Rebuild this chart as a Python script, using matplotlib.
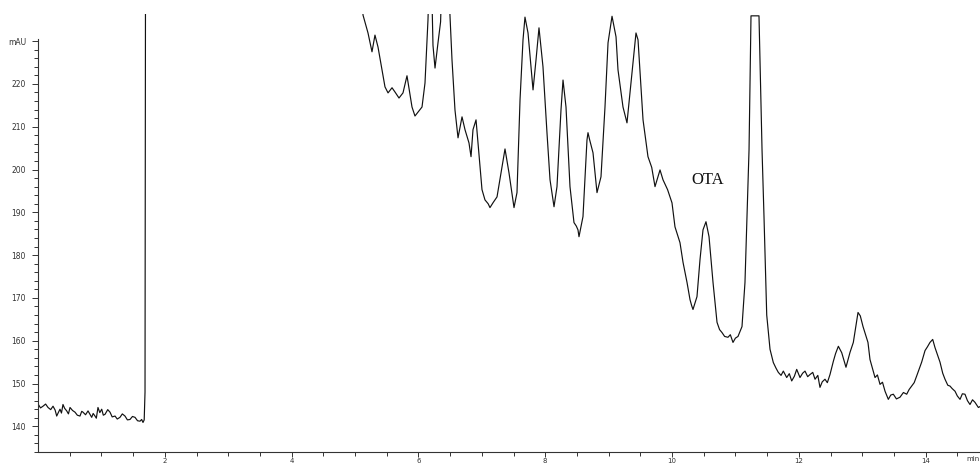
import numpy as np
import matplotlib.pyplot as plt

# -----------------------------
# chromatogram trace (min, mAU)
# -----------------------------
t_base = [-0.10, -0.07, -0.05, -0.02, 0.005, 0.04, 0.079, 0.12, 0.158, 0.20, 0.237, 0.27, 0.295, 0.32,
          0.347, 0.37, 0.394, 0.42, 0.453, 0.48, 0.505, 0.545, 0.584, 0.62, 0.662, 0.69, 0.710,
          0.75, 0.789, 0.82, 0.847, 0.87, 0.899, 0.92, 0.946, 0.975, 1.005, 1.03, 1.057, 1.10,
          1.136, 1.17, 1.215, 1.25, 1.293, 1.33, 1.372, 1.41, 1.451, 1.49, 1.530, 1.57, 1.609,
          1.635, 1.656, 1.675, 1.688]
y_base = [145.5, 146.2, 145.9, 145.3, 145.1, 144.3, 144.7, 145.2, 144.4, 143.9, 144.7, 143.8, 142.4, 143.2,
          144.0, 143.1, 145.1, 144.2, 143.6, 142.9, 144.4, 143.7, 143.3, 142.6, 142.4, 143.5, 143.3,
          142.7, 143.6, 142.8, 142.1, 143.0, 142.4, 141.9, 144.4, 143.2, 144.0, 142.6, 142.8, 143.9,
          143.3, 142.2, 142.4, 141.7, 142.1, 142.9, 142.4, 141.5, 141.6, 142.3, 142.1, 141.3, 141.2,
          141.6, 140.9, 141.5, 148.0]

# solvent front goes off the top of the paper
t_front = [1.700, 1.71, 5.10]
y_front = [300.0, 300.0, 300.0]

t_main = [5.126, 5.205, 5.268, 5.315, 5.363, 5.426, 5.473, 5.521, 5.584, 5.631, 5.694, 5.757, 5.820,
          5.899, 5.946, 6.057, 6.104, 6.151, 6.183, 6.199, 6.230, 6.262, 6.309, 6.350, 6.380,
          6.460, 6.498, 6.530, 6.577, 6.625, 6.688, 6.735, 6.798, 6.830, 6.861, 6.909, 6.940,
          7.003, 7.050, 7.100, 7.129, 7.180, 7.240, 7.319, 7.366, 7.429, 7.508, 7.555, 7.603,
          7.650, 7.681, 7.729, 7.808, 7.855, 7.902, 7.965, 8.028, 8.076, 8.139, 8.186, 8.249,
          8.281, 8.328, 8.391, 8.454, 8.490, 8.517, 8.533, 8.596, 8.659, 8.675, 8.700, 8.754,
          8.817, 8.880, 8.943, 8.991, 9.054, 9.117, 9.148, 9.227, 9.290, 9.353, 9.432, 9.464,
          9.543, 9.621, 9.680, 9.732, 9.811, 9.858, 9.930, 10.000, 10.047, 10.126, 10.174,
          10.237, 10.284, 10.310, 10.331, 10.394, 10.442, 10.489, 10.536, 10.584, 10.647,
          10.710, 10.750, 10.789, 10.830, 10.883, 10.920, 10.962, 11.000, 11.041, 11.104,
          11.151, 11.183, 11.215, 11.246, 11.372, 11.420, 11.451, 11.494, 11.546, 11.598,
          11.640, 11.677, 11.720, 11.756, 11.809, 11.850, 11.888, 11.930, 11.967, 12.019,
          12.060, 12.098, 12.140, 12.177, 12.220, 12.256, 12.300, 12.334, 12.370, 12.413,
          12.450, 12.492, 12.545, 12.580, 12.624, 12.677, 12.744, 12.808, 12.860, 12.900,
          12.934, 12.970, 13.013, 13.091, 13.123, 13.202, 13.240, 13.281, 13.320, 13.360,
          13.412, 13.450, 13.491, 13.540, 13.596, 13.650, 13.702, 13.740, 13.781, 13.820,
          13.860, 13.938, 13.991, 14.030, 14.069, 14.112, 14.148, 14.227, 14.270, 14.306,
          14.350, 14.385, 14.420, 14.464, 14.500, 14.543, 14.580, 14.621, 14.660, 14.700,
          14.740, 14.779, 14.832, 14.870]
y_main = [236.1, 231.9, 227.5, 231.4, 228.6, 223.3, 219.3, 217.9, 219.1, 218.1, 216.7, 217.9, 221.9,
          214.6, 212.5, 214.6, 220.2, 234.9, 250.0, 250.0, 229.0, 223.7, 229.6, 234.5, 250.0,
          250.0, 236.0, 225.6, 213.9, 207.4, 212.3, 209.3, 206.2, 203.0, 209.3, 211.6, 206.2,
          195.3, 192.9, 192.0, 191.1, 192.3, 193.6, 200.6, 204.8, 199.2, 191.1, 194.6, 216.3,
          230.3, 235.6, 231.9, 218.6, 225.6, 233.1, 224.0, 208.6, 197.6, 191.3, 196.0, 213.9,
          220.9, 214.6, 196.0, 187.6, 186.8, 185.9, 184.3, 189.0, 206.9, 208.6, 207.0, 203.9,
          194.6, 198.3, 214.6, 229.6, 235.8, 231.0, 223.3, 214.6, 210.9, 220.2, 231.9, 230.3,
          211.6, 203.0, 200.5, 196.0, 199.9, 197.6, 195.3, 192.2, 186.6, 182.9, 178.3,
          173.6, 169.6, 168.2, 167.3, 170.3, 179.0, 185.9, 187.8, 184.3, 173.6,
          164.3, 162.6, 161.9, 161.0, 160.8, 161.4, 159.6, 160.6, 161.0, 163.3,
          173.6, 189.0, 204.6, 235.9, 235.9, 204.6, 189.0, 166.0, 158.0, 154.9,
          153.6, 152.6, 151.9, 152.9, 151.4, 152.3, 150.6, 151.7, 153.3, 151.4,
          152.4, 152.9, 151.6, 152.1, 152.6, 151.0, 151.9, 149.1, 150.4, 151.0,
          150.2, 152.1, 155.2, 157.0, 158.7, 157.2, 153.8, 157.3, 159.6, 163.4,
          166.6, 165.8, 163.3, 159.6, 155.6, 151.4, 152.0, 149.8, 150.3, 148.2,
          146.3, 147.3, 147.5, 146.4, 146.8, 147.9, 147.5, 148.6, 149.4, 150.2,
          151.8, 155.0, 157.7, 158.6, 159.6, 160.3, 158.4, 155.0, 152.4, 151.0,
          149.6, 149.4, 148.8, 148.2, 147.1, 146.3, 147.6, 147.5, 146.0, 145.1,
          146.2, 145.6, 144.4, 144.7]

x_major = [2, 4, 6, 8, 10, 12, 14]
x_labels = ["2", "4", "6", "8", "10", "12", "14"]
y_major = [140, 150, 160, 170, 180, 190, 200, 210, 220, 230]
y_labels = ["140", "150", "160", "170", "180", "190", "200", "210", "220", "mAU"]

t = t_base + t_front + t_main
y = y_base + y_front + y_main

# -----------------------------
# figure
# -----------------------------
fig = plt.figure(figsize=(9.8, 4.67), dpi=100)
ax = fig.add_axes([38 / 980, 15 / 467, 942 / 980, 438 / 467])

ax.plot(t, y, color="#111111", lw=0.85)

ax.set_xlim(0, 14.858)
ax.set_ylim(134.16, 236.33)

for s in ["top", "right"]:
    ax.spines[s].set_visible(False)
ax.spines["left"].set_bounds(134.16, 230.6)
for s in ["left", "bottom"]:
    ax.spines[s].set_color("#333333")
    ax.spines[s].set_linewidth(0.8)

ax.set_xticks(x_major)
ax.set_xticklabels(x_labels)
ax.set_xticks(np.arange(0.5, 14.9, 0.5), minor=True)
ax.set_yticks(y_major)
ax.set_yticklabels(y_labels)
ax.set_yticks(np.arange(134, 231, 2), minor=True)

ax.tick_params(axis="y", which="major", length=4.3, width=0.7, color="#333333",
               labelsize=5.5, labelcolor="#333333", pad=4.3)
ax.tick_params(axis="x", which="major", length=3.6, width=0.7, color="#333333",
               labelsize=5, labelcolor="#333333", pad=0.6)
ax.tick_params(which="minor", length=3.0, width=0.7, color="#333333")

# "min" unit at the right end of the time axis
ax.text(1.0, -0.009, "min", transform=ax.transAxes, fontsize=5, color="#333333",
        ha="right", va="top")

ax.text(10.568, 197.6, "OTA", family="Liberation Serif", fontsize=12,
        ha="center", va="center", color="#111111")

fig.savefig("out.png", dpi=100)
